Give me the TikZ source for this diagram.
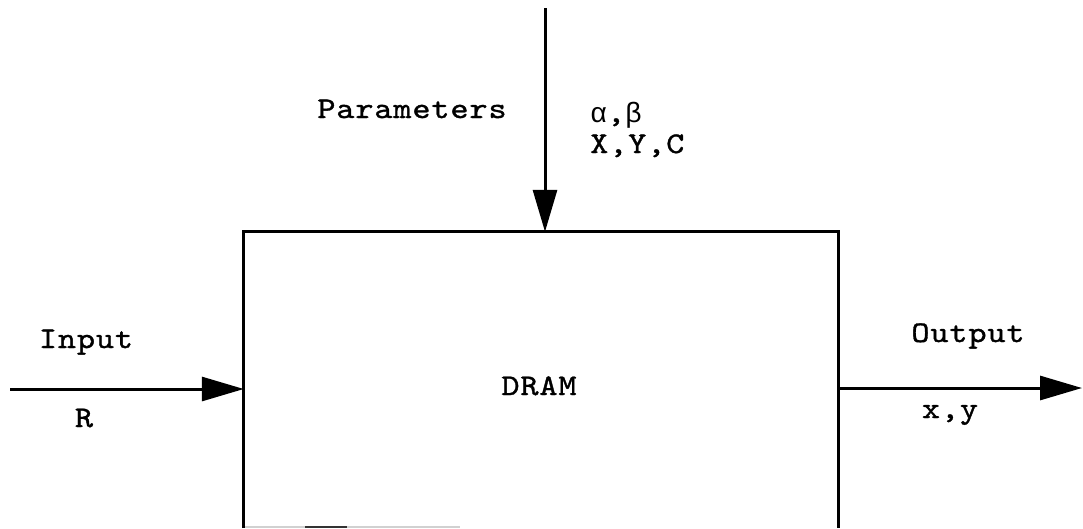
\documentclass[tikz,border=0pt]{standalone}
\usepackage{fontspec}
\newfontfamily\monofam{lmmono10-regular.otf}[FakeStretch=1.15,LetterSpace=3,FakeBold=1.2]
\newfontfamily\greekfam{Liberation Mono}
\usetikzlibrary{arrows.meta}
\tikzset{
  line/.style={line width=3pt, line cap=butt},
  arr/.style={line width=3pt, -{Triangle[length=42pt,width=24pt]}},
  lbl/.style={font=\monofam\fontsize{30}{36}\selectfont, inner sep=0pt, anchor=base},
  boxnode/.style={minimum width=594pt, minimum height=296pt, inner sep=0pt}
}
\begin{document}
\begin{tikzpicture}[x=1pt,y=-1pt]
\useasboundingbox (0,0) rectangle (1083,528);
% box (bottom edge cut off)
\node[boxnode] (dram) at (541,380) {};
\draw[line] (dram.south west) -- (dram.north west) -- (dram.north east) -- (dram.south east);
\draw[line width=2pt, black!18] (245,526.5) -- (460,526.5);
\draw[line width=2pt, black!80] (305,526.5) -- (347,526.5);
\node[lbl] (dramlbl) at (539,395) {DRAM};
% parameter arrow
\coordinate (ptop) at (545,8);
\draw[arr] (ptop) -- (ptop |- dram.north);
\node[lbl] (params) at (412,118) {Parameters};
\node[lbl, anchor=base west] (ab) at (590,122) {{\greekfam\fontsize{28}{34}\selectfont α},{\greekfam\fontsize{28}{34}\selectfont β}};
\node[lbl, anchor=base west] (xyc) at (590,153) {X,Y,C};
% input arrow
\coordinate (inS) at (10,389);
\draw[arr] (inS) -- (inS -| dram.west);
\node[lbl] (input) at (86,348) {Input};
\node[lbl] (r) at (84,427) {R};
% output arrow
\coordinate (outE) at (1082,388);
\draw[arr] (outE -| dram.east) -- (outE);
\node[lbl] (output) at (968,342) {Output};
\node[lbl] (xy) at (950,418) {x,y};
\end{tikzpicture}
\end{document}
